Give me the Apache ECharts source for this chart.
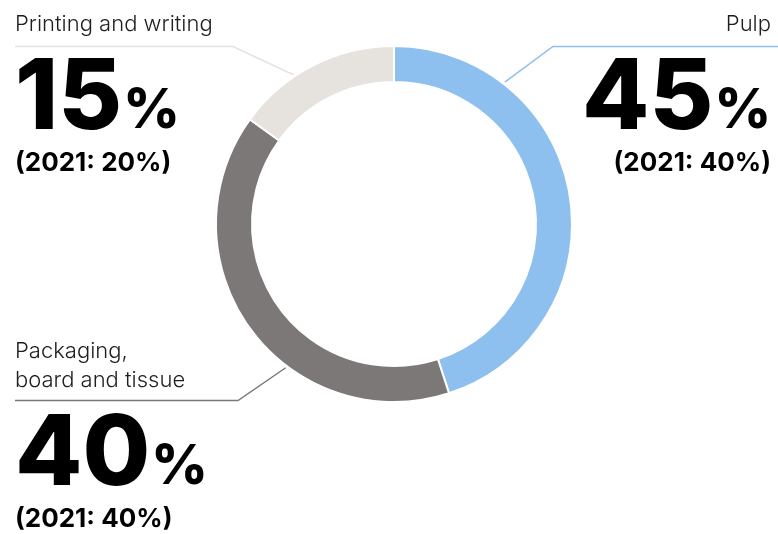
<!DOCTYPE html>
<html><head><meta charset="utf-8">
<script src="https://cdn.jsdelivr.net/npm/echarts@6/dist/echarts.min.js"></script>
<style>html,body{margin:0;padding:0;background:#fff}#c{width:778px;height:534px}</style>
</head><body><div id="c"></div>
<script>
// ---- data ----
const categories = ['Pulp', 'Packaging,\nboard and tissue', 'Printing and writing'];
const share2022 = [45, 40, 15];
const share2021 = [40, 40, 20];
const colors = ['#8dbfef', '#7c7877', '#e6e2de'];

// ---- layout (text placement and leader lines) ----
const center = [394, 224];
const anchorR = 180;
const labelPos = [
  {x: 771, y: 10, align: 'right', anchorAngle: 38, elbow: [553, 46.5], endX: 778},
  {x: 15, y: 337, align: 'left', anchorAngle: 217, elbow: [238, 400.5], endX: 15},
  {x: 15, y: 10, align: 'left', anchorAngle: 326, elbow: [233, 46.5], endX: 15}
];

const fontFamily = 'Inter, "Noto Sans", sans-serif';
const chart = echarts.init(document.getElementById('c'), null, {renderer: 'canvas'});

const data = categories.map((name, i) => ({
  name: name,
  value: share2022[i],
  itemStyle: {color: colors[i]},
  label: {align: labelPos[i].align},
  labelLine: {lineStyle: {color: colors[i]}}
}));

chart.setOption({
  animation: false,
  series: [{
    type: 'pie',
    center: center,
    radius: [142, 178],
    startAngle: 90,
    clockwise: true,
    avoidLabelOverlap: false,
    itemStyle: {borderColor: '#fff', borderWidth: 2},
    label: {
      show: true,
      position: 'outside',
      formatter: function (p) {
        const i = p.dataIndex;
        return p.name.split('\n').map(s => '{name|' + s + '}').join('\n') +
          '\n{big|' + share2022[i] + '}{pct|%}\n{sub|(2021: ' + share2021[i] + '%)}';
      },
      rich: {
        name: {fontFamily: fontFamily, fontSize: 22, fontWeight: 300, color: '#1e1e1e', lineHeight: 29},
        big: {fontFamily: fontFamily, fontSize: 98, fontWeight: 800, color: '#000', lineHeight: 122},
        pct: {fontFamily: fontFamily, fontSize: 55, fontWeight: 800, color: '#000', lineHeight: 100, verticalAlign: 'top', padding: [45, 0, 0, 1]},
        sub: {fontFamily: fontFamily, fontSize: 26, fontWeight: 700, color: '#000', lineHeight: 5}
      }
    },
    labelLine: {show: true, lineStyle: {width: 1.5}},
    labelLayout: function (p) {
      const L = labelPos[p.dataIndex];
      const a = L.anchorAngle * Math.PI / 180;
      const ax = center[0] + anchorR * Math.sin(a);
      const ay = center[1] - anchorR * Math.cos(a);
      return {
        x: L.x, y: L.y, align: L.align, verticalAlign: 'top',
        labelLinePoints: [[ax, ay], L.elbow, [L.endX, L.elbow[1]]]
      };
    },
    emphasis: {disabled: true},
    data: data
  }]
});
</script>
</body></html>
